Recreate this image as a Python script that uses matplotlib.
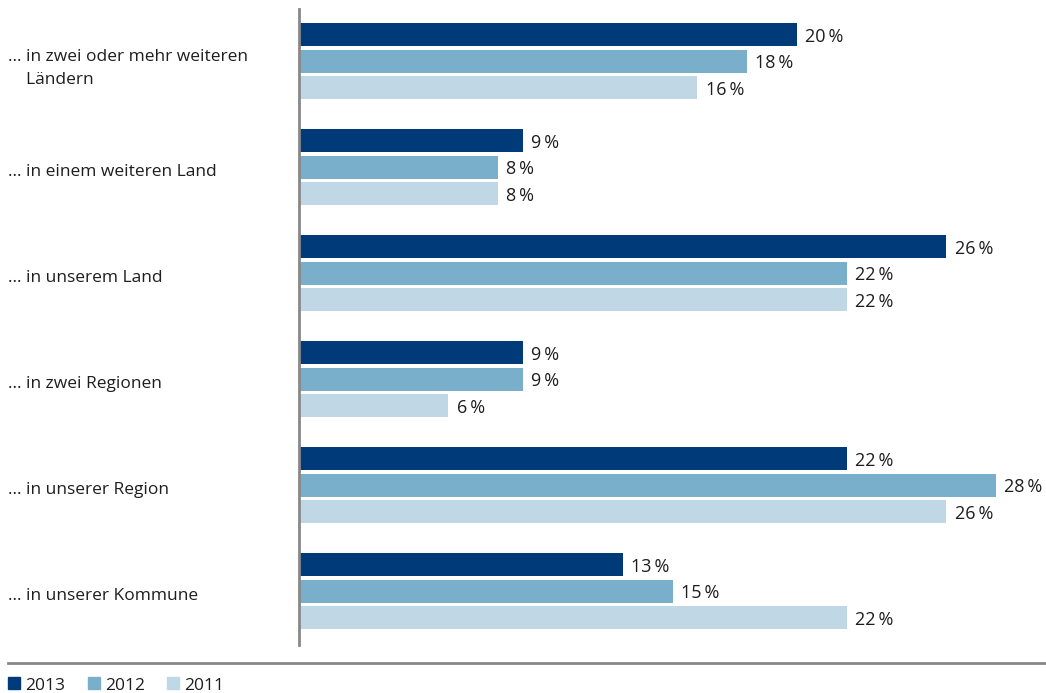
import matplotlib.pyplot as plt
from matplotlib.patches import Rectangle
from matplotlib.lines import Line2D

categories = ['… in zwei oder mehr weiteren\n    Ländern', '… in einem weiteren Land', '… in unserem Land',
              '… in zwei Regionen', '… in unserer Region', '… in unserer Kommune']
years = ['2013', '2012', '2011']
v2013 = [20, 9, 26, 9, 22, 13]
v2012 = [18, 8, 22, 9, 28, 15]
v2011 = [16, 8, 22, 6, 26, 22]
colors = ['#003a78', '#7aafcb', '#c0d8e6']

W, H = 1046, 693
plt.rcParams['font.family'] = ['Open Sans', 'DejaVu Sans']
fig = plt.figure(figsize=(W / 100, H / 100), dpi=100)

# axes placed in pixel terms: left edge at x=299, top at y=9, bottom at y=645
ax = fig.add_axes([299 / W, 1 - 645 / H, 1 - 299 / W, (645 - 9) / H])
ax.set_xlim(0, 30)
ax.set_ylim(645, 9)

pitch = 26.5
group = 106
first = 61.5
series = [v2013, v2012, v2011]
for i, cat in enumerate(categories):
    c = first + group * i
    for j, vals in enumerate(series):
        y = c + (j - 1) * pitch
        ax.barh(y, vals[i], height=23, color=colors[j])
        ax.text(vals[i] + 0.33, y, f'{vals[i]}\u2009%', va='center_baseline', ha='left',
                fontsize=13, color='#1e1e1e')
    ax.text(-291 / 24.9, c + (7 if '\n' in cat else 5), cat, va='center', ha='left',
            fontsize=12.5, color='#1e1e1e', linespacing=1.6, clip_on=False)

for s in ['top', 'right', 'bottom']:
    ax.spines[s].set_visible(False)
ax.spines['left'].set_color('#888888')
ax.spines['left'].set_linewidth(2)
ax.set_xticks([])
ax.set_yticks([])

# separator line and legend
fig.add_artist(Line2D([8 / W, 1], [1 - 663 / H, 1 - 663 / H], color='#888888', lw=2))
lx = [8, 88, 167]
for k, yr in enumerate(years):
    fig.add_artist(Rectangle((lx[k] / W, 1 - 689 / H), 12 / W, 12 / H,
                             color=colors[k], transform=fig.transFigure))
    fig.text((lx[k] + 17) / W, 1 - 684 / H, yr, va='center_baseline', ha='left',
             fontsize=12.5, color='#1e1e1e')

fig.savefig('out.png', dpi=100)
